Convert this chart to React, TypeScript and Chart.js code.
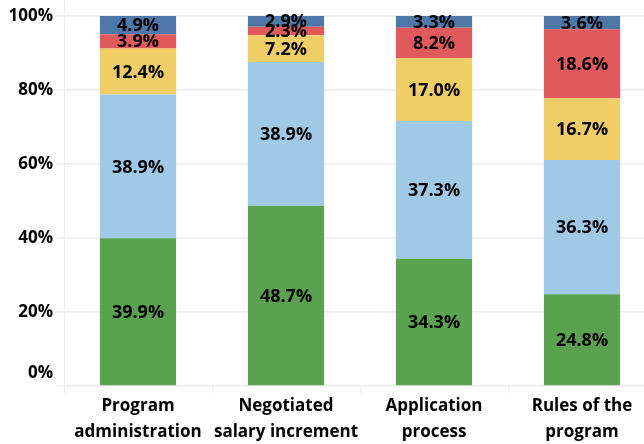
import React, { useEffect, useRef } from "react";
import { Chart, registerables } from "chart.js";

Chart.register(...registerables);

const categories: string[][] = [
  ["Program", "administration"],
  ["Negotiated", "salary increment"],
  ["Application", "process"],
  ["Rules of the", "program"],
];
const seriesNames = ["S1", "S2", "S3", "S4", "S5"];
const s1 = [39.9, 48.7, 34.3, 24.8];
const s2 = [38.9, 38.9, 37.3, 36.3];
const s3 = [12.4, 7.2, 17.0, 16.7];
const s4 = [3.9, 2.3, 8.2, 18.6];
const s5 = [4.9, 2.9, 3.3, 3.6];
const colors = ["#5ba250", "#a0c9e8", "#f1cd67", "#e05a5c", "#4e78a8"];
const yTicks = [0, 20, 40, 60, 80, 100];

const FONT = "'Open Sans', sans-serif";
const GRID = "#ececec";

export default function App() {
  const ref = useRef<HTMLCanvasElement | null>(null);
  useEffect(() => {
    if (!ref.current) return;
    const series = [s1, s2, s3, s4, s5];
    const labelPlugin = {
      id: "customDraw",
      afterDatasetsDraw(chart: any) {
        const ctx = chart.ctx;
        ctx.save();
        ctx.font = `bold 18px ${FONT}`;
        ctx.fillStyle = "#000";
        ctx.textAlign = "center";
        ctx.textBaseline = "middle";
        chart.data.datasets.forEach((ds: any, di: number) => {
          const meta = chart.getDatasetMeta(di);
          meta.data.forEach((bar: any, i: number) => {
            const v = ds.data[i];
            const cy = (bar.y + bar.base) / 2;
            ctx.fillText(v.toFixed(1) + "%", bar.x, cy + 1);
          });
        });
        ctx.restore();
      },
      afterDraw(chart: any) {
        const ctx = chart.ctx;
        const ys = chart.scales.y;
        const area = chart.chartArea;
        ctx.save();
        ctx.strokeStyle = GRID;
        ctx.lineWidth = 1;
        ctx.beginPath();
        ctx.moveTo(area.left + 0.5, 0);
        ctx.lineTo(area.left + 0.5, area.top);
        ctx.stroke();
        ctx.font = `bold 17px ${FONT}`;
        ctx.fillStyle = "#000";
        ctx.textAlign = "right";
        ctx.textBaseline = "middle";
        yTicks.forEach((t) => {
          let y = ys.getPixelForValue(t);
          if (t === 0) y -= 13;
          ctx.fillText(t + "%", 53, y);
        });
        ctx.restore();
      },
    };
    const chart = new Chart(ref.current, {
      type: "bar",
      data: {
        labels: categories,
        datasets: series.map((d, i) => ({
          label: seriesNames[i],
          data: d,
          backgroundColor: colors[i],
          borderWidth: 0,
          barPercentage: 0.515,
          categoryPercentage: 1,
        })),
      },
      options: {
        animation: false,
        responsive: false,
        maintainAspectRatio: false,
        layout: { padding: { left: 0, right: 0, top: 16, bottom: 0 } },
        plugins: {
          legend: { display: false },
          tooltip: { enabled: false },
        },
        scales: {
          x: {
            stacked: true,
            afterFit: (s: any) => {
              s.height = 58;
            },
            grid: {
              display: true,
              offset: true,
              drawOnChartArea: false,
              tickLength: 7,
              color: GRID,
            },
            border: { display: false },
            ticks: {
              color: "#000",
              font: { family: FONT, size: 17, weight: "bold", lineHeight: 1.52 },
              padding: 0,
              maxRotation: 0,
              autoSkip: false,
            },
          },
          y: {
            stacked: true,
            min: 0,
            max: 100,
            afterFit: (s: any) => {
              s.width = 64;
            },
            afterBuildTicks: (s: any) => {
              s.ticks = yTicks.map((v) => ({ value: v }));
            },
            grid: {
              color: GRID,
              lineWidth: 1.5,
              tickLength: 7,
            },
            border: { display: true, color: GRID },
            ticks: { display: false },
          },
        },
      },
      plugins: [labelPlugin],
    });
    return () => chart.destroy();
  }, []);
  return (
    <div style={{ position: "absolute", left: 0, top: 0, width: 660, height: 444, overflow: "hidden" }}>
      <canvas ref={ref} width={656} height={444} style={{ display: "block" }} />
    </div>
  );
}
